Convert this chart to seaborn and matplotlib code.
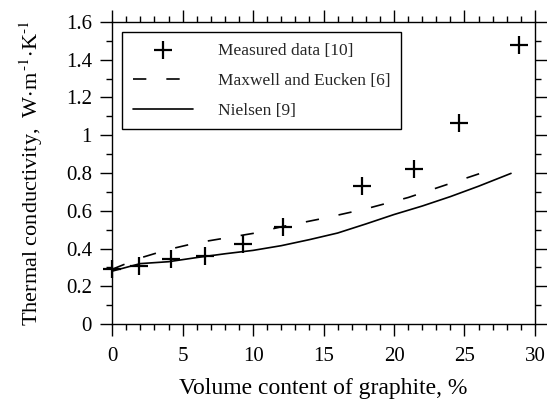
import matplotlib
matplotlib.use("Agg")
import matplotlib.pyplot as plt
import seaborn as sns
import pandas as pd
from matplotlib.ticker import MultipleLocator, FuncFormatter

# measured points [10]
meas_x = [0.0, 1.9, 4.2, 6.6, 9.3, 12.1, 17.7, 21.4, 24.6, 28.9]
meas_y = [0.29, 0.305, 0.343, 0.36, 0.424, 0.516, 0.731, 0.819, 1.067, 1.476]

# Maxwell and Eucken [6]
maxw_x = [0, 2, 4, 6, 8, 10, 12, 15, 18, 21, 24, 26.8]
maxw_y = [0.29, 0.35, 0.395, 0.43, 0.455, 0.48, 0.515, 0.56, 0.61, 0.67, 0.745, 0.815]

# Nielsen [9]
niel_x = [0, 2, 4, 6, 8, 10, 12, 14, 16, 18, 20, 22, 24, 26, 28.3]
niel_y = [0.28, 0.32, 0.33, 0.352, 0.372, 0.39, 0.415, 0.447, 0.482, 0.53, 0.58, 0.625, 0.675, 0.73, 0.798]

sns.set_theme(style="ticks")
plt.rcParams["font.family"] = ["Liberation Serif", "DejaVu Serif"]
plt.rcParams["mathtext.fontset"] = "stix"

fig = plt.figure(figsize=(5.47, 4.0), dpi=100)
ax = fig.add_axes([0.205, 0.19, 0.773, 0.755])

sns.scatterplot(x=meas_x, y=meas_y, marker="+", s=150, color="black",
                linewidth=1.6, label="Measured data [10]", ax=ax, zorder=3,
                clip_on=False)
sns.lineplot(x=maxw_x, y=maxw_y, color="black", linewidth=1.2,
             linestyle=(0, (8, 12)), sort=False, estimator=None,
             label="Maxwell and Eucken [6]", ax=ax)
sns.lineplot(x=niel_x, y=niel_y, color="black", linewidth=1.2,
             sort=False, estimator=None, label="Nielsen [9]", ax=ax)

ax.set_xlim(0, 30)
ax.set_ylim(0, 1.6)
ax.xaxis.set_major_locator(MultipleLocator(5))
ax.xaxis.set_minor_locator(MultipleLocator(1))
ax.yaxis.set_major_locator(MultipleLocator(0.2))
ax.yaxis.set_minor_locator(MultipleLocator(0.1))
ax.yaxis.set_major_formatter(FuncFormatter(lambda v, p: f"{v:g}"))

for s in ax.spines.values():
    s.set_color("black")
    s.set_linewidth(1.0)

ax.tick_params(which="both", direction="out", top=True, right=True,
               color="black", width=1.0)
ax.tick_params(which="major", length=8.5, labelsize=15, pad=6, labelcolor="black")
ax.tick_params(which="minor", length=4.5)
ax.tick_params(axis="x", which="major", pad=8)

ax.set_xlabel("Volume content of graphite, %", fontsize=17, labelpad=9, color="black")
ax.set_ylabel(r"Thermal conductivity,  W$\cdot$m$^{\,\text{-}1}$$\cdot$K$^{\text{-}1}$",
              fontsize=16, labelpad=15, color="black")

leg = ax.legend(loc="upper left", bbox_to_anchor=(0.024, 0.967), fontsize=12.5,
                frameon=True, fancybox=False, edgecolor="black", framealpha=1,
                handlelength=3.5, handletextpad=1.4, labelspacing=0.8,
                borderpad=0.6, borderaxespad=0)
leg.get_frame().set_linewidth(1.0)

fig.savefig("out.png", dpi=100)
